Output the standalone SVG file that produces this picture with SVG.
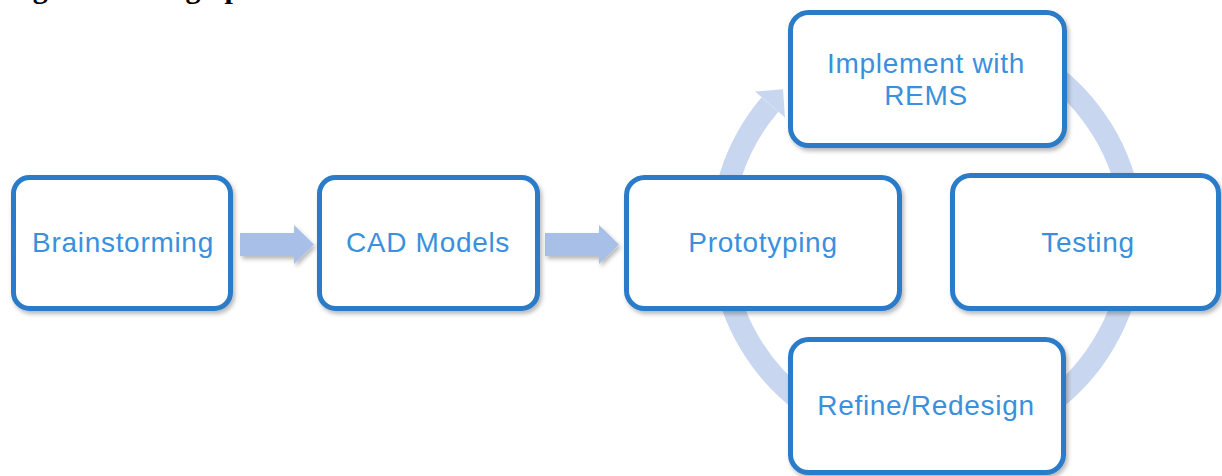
<svg xmlns="http://www.w3.org/2000/svg" width="1222" height="476" viewBox="0 0 1222 476">
  <style>
    .box { fill: #ffffff; stroke: #2a7bc9; stroke-width: 5; }
    .lbl { font-family: "Liberation Sans", Arial, sans-serif; font-size: 28px; fill: #3a90dd; text-anchor: middle; letter-spacing: 0.7px; }
    .flow { fill: #a8c0e8; }
    .cyc { fill: none; stroke: #c8d7ef; stroke-width: 22; }
    .cychead { fill: #c8d7ef; }
    .cap { font-family: "Liberation Serif", "Times New Roman", serif; font-size: 30px; font-weight: bold; fill: #000000; }
  </style>
  <defs>
    <filter id="sh" x="-10%" y="-10%" width="125%" height="130%">
      <feDropShadow dx="2" dy="3" stdDeviation="2" flood-color="#000000" flood-opacity="0.28"/>
    </filter>
  </defs>
  <rect width="1222" height="476" fill="#ffffff"/>
  <text class="cap" x="6" y="-2.5">Figure 3: Design process</text>

  <g id="connectors">
    <polygon class="flow" filter="url(#sh)" points="240,233 294,233 294,225 314,244.5 294,264 294,256 240,256"/>
    <polygon class="flow" filter="url(#sh)" points="545,233 599,233 599,225 619,244.5 599,264 599,256 545,256"/>
    <path class="cyc" d="M770,104.5 A206,206 0 1 0 1030,59.6"/>
    <polygon class="cychead" points="755,91.5 783,89.3 785,117.5"/>
  </g>

  <g id="brainstorming">
    <rect class="box" filter="url(#sh)" x="13.5" y="177.5" width="217" height="131" rx="16"/>
    <text class="lbl" x="123" y="252">Brainstorming</text>
  </g>
  <g id="cad-models">
    <rect class="box" filter="url(#sh)" x="319.5" y="177.5" width="218" height="131" rx="16"/>
    <text class="lbl" x="428" y="252">CAD Models</text>
  </g>
  <g id="prototyping">
    <rect class="box" filter="url(#sh)" x="626.5" y="177.5" width="273" height="131" rx="18"/>
    <text class="lbl" x="763" y="252">Prototyping</text>
  </g>
  <g id="implement">
    <rect class="box" filter="url(#sh)" x="790.5" y="12.5" width="274" height="133" rx="18"/>
    <text class="lbl" x="926" y="73">Implement with</text>
    <text class="lbl" x="926" y="105">REMS</text>
  </g>
  <g id="testing">
    <rect class="box" filter="url(#sh)" x="952.5" y="175.5" width="266" height="133" rx="18"/>
    <text class="lbl" x="1088" y="252">Testing</text>
  </g>
  <g id="refine">
    <rect class="box" filter="url(#sh)" x="790.5" y="339.5" width="273" height="133" rx="18"/>
    <text class="lbl" x="926" y="415">Refine/Redesign</text>
  </g>
</svg>
